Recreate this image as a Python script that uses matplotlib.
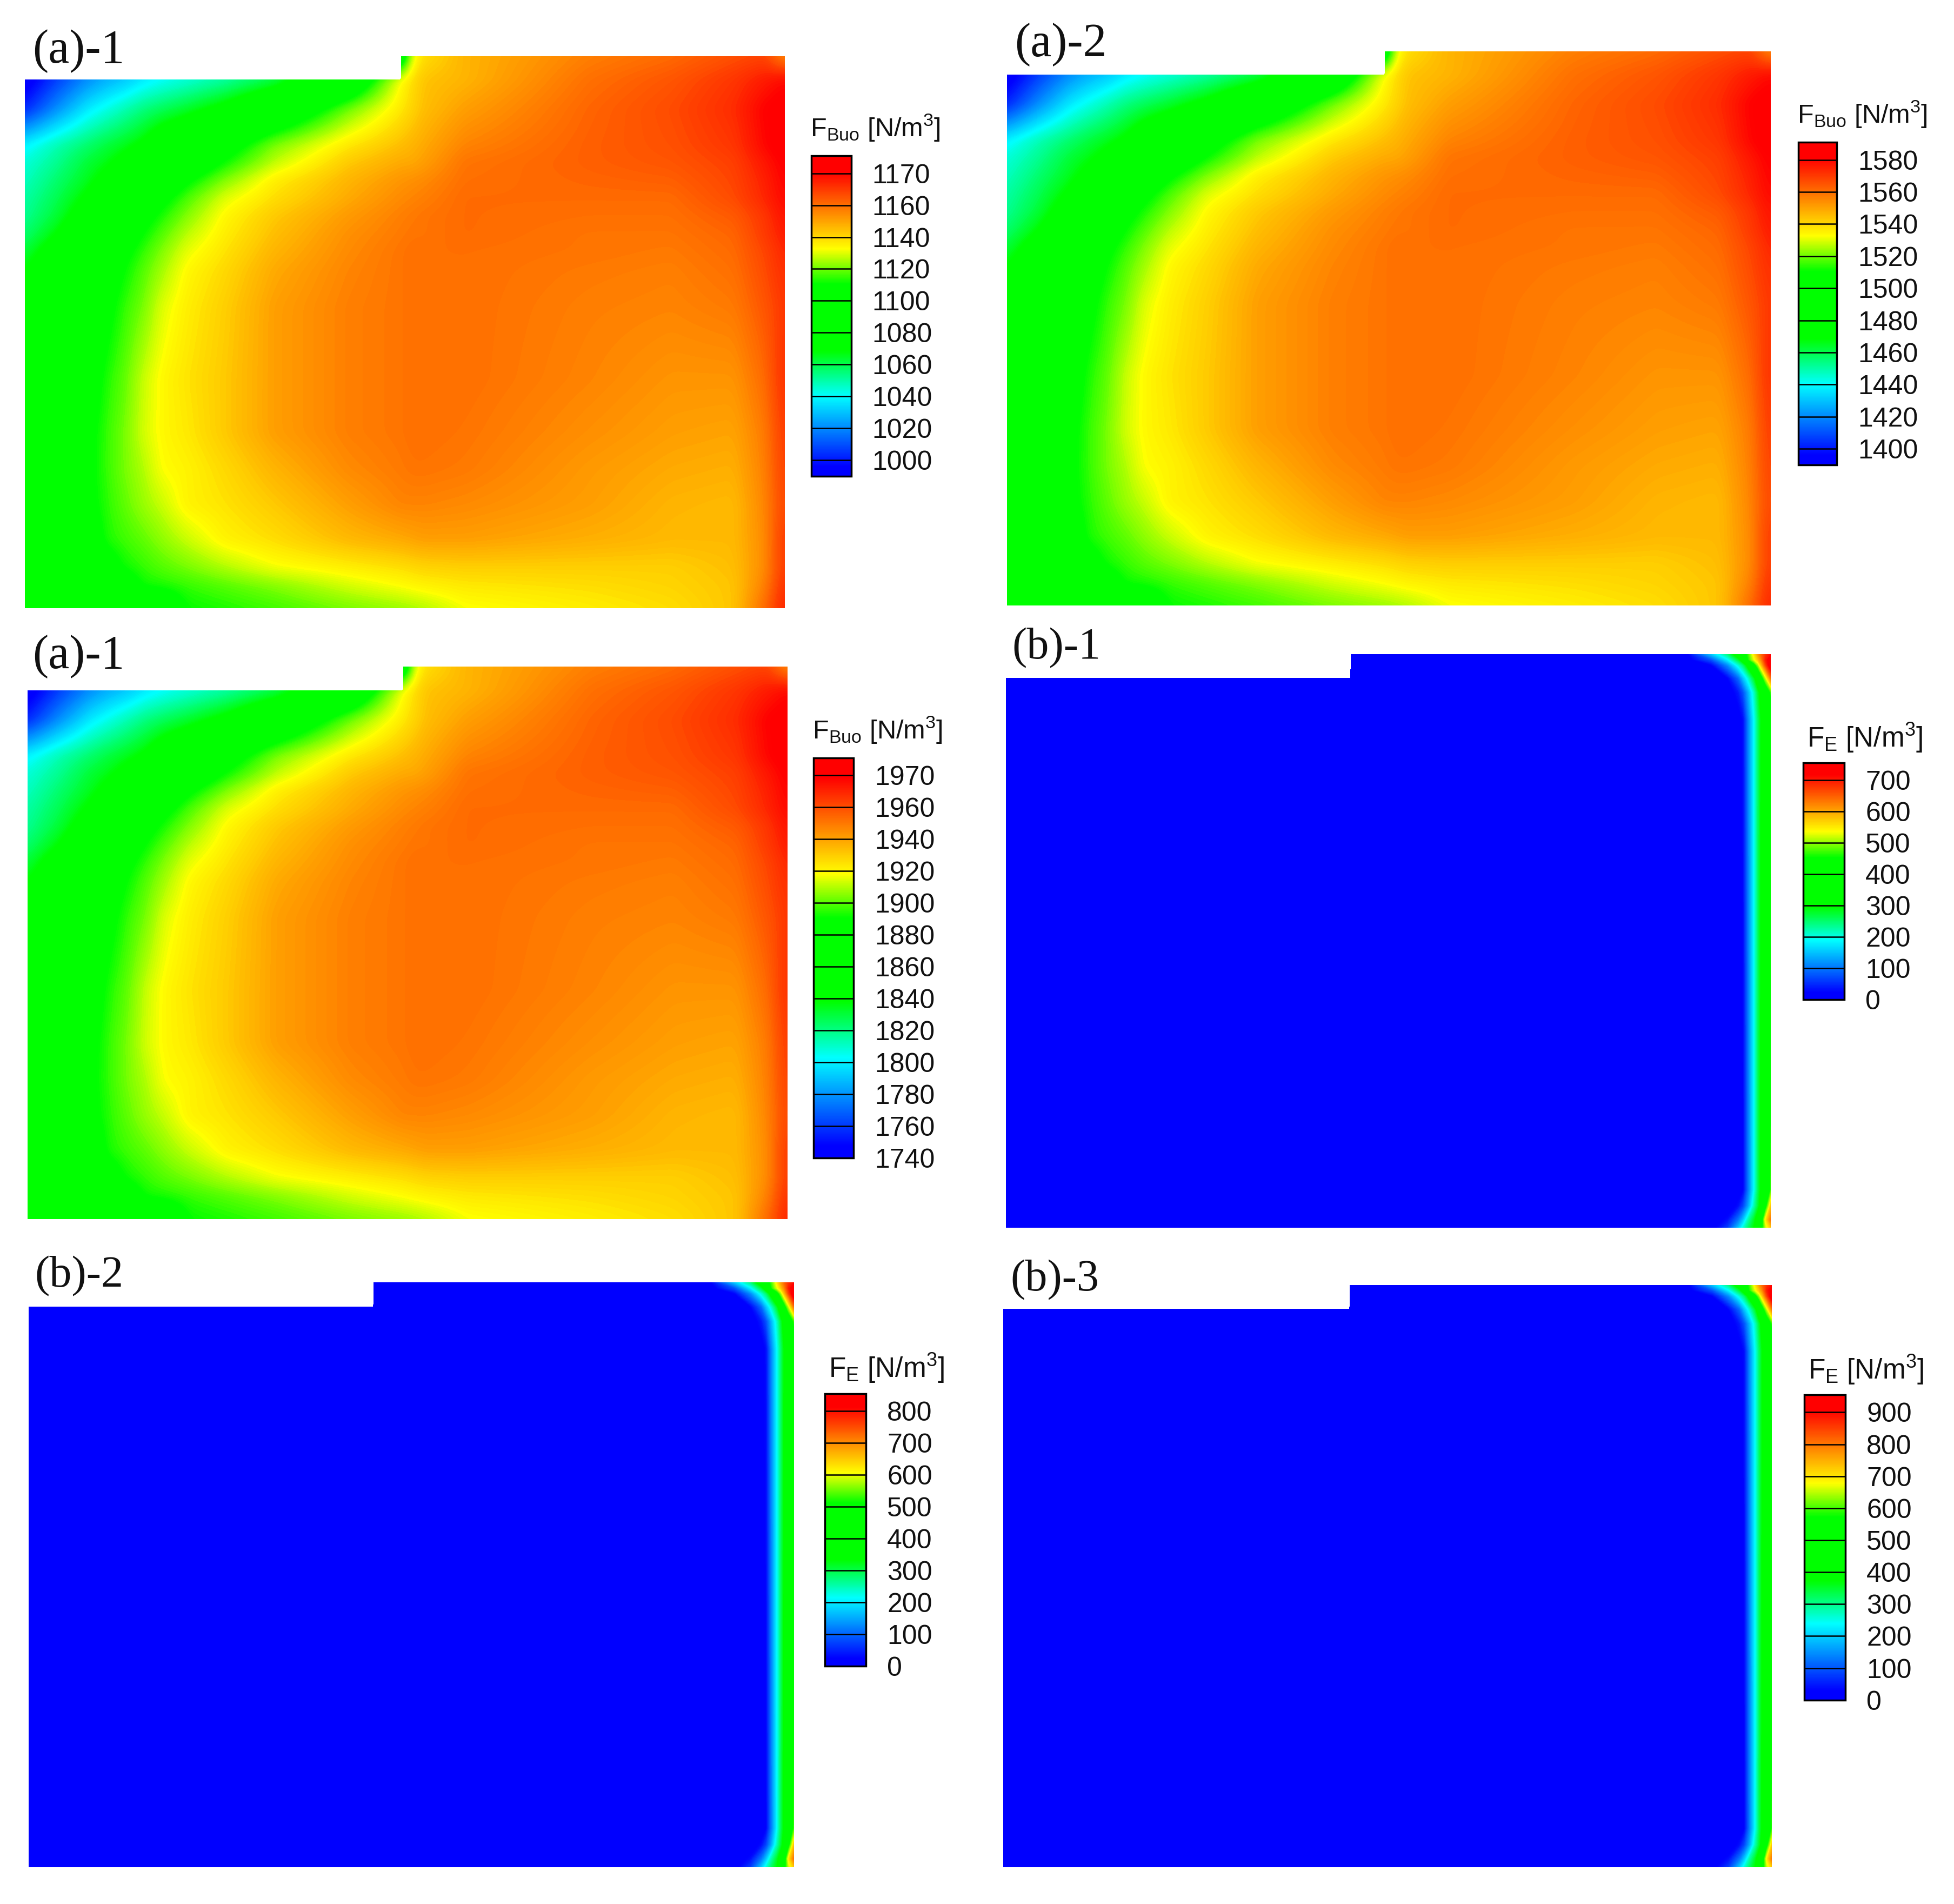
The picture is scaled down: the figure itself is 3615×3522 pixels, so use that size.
import numpy as np
import matplotlib
matplotlib.use("Agg")
import matplotlib.pyplot as plt
from matplotlib.cm import ScalarMappable
from matplotlib.colors import LinearSegmentedColormap, Normalize

plt.rcParams['font.family'] = ['Liberation Sans', 'DejaVu Sans']
plt.rcParams['mathtext.fontset'] = 'custom'
plt.rcParams['mathtext.rm'] = 'Liberation Sans'

# field tables hold the position on the colour bar, 0 = bottom, 1 = top
buo_x = [0, 25, 50, 65, 80, 95, 110, 130, 160, 200, 260, 302, 311, 320, 353, 453, 519, 569, 594, 607, 610]
buo_y = [0, 19, 42, 71, 85, 100, 114, 128, 143, 157, 172, 201, 259, 302, 331, 360, 388, 410, 425, 443]
buo_field = [
    [0, .08, .15, .18, .20, .23, .25, .27, .30, .35, .50, .50, .70, .74, .78, .83, .85, .875, .885, .83, .82],
    [0, .08, .15, .18, .20, .23, .25, .27, .30, .35, .50, .71, .74, .765, .78, .845, .87, .90, .925, .94, .94],
    [.06, .15, .23, .26, .29, .32, .34, .365, .41, .50, .645, .73, .75, .77, .80, .855, .88, .91, .95, .96, .96],
    [.24, .29, .33, .355, .375, .40, .45, .49, .56, .65, .73, .77, .78, .79, .825, .86, .875, .90, .945, .96, .96],
    [.27, .31, .36, .38, .41, .45, .48, .53, .60, .68, .76, .79, .79, .80, .84, .86, .87, .89, .93, .95, .95],
    [.285, .33, .375, .41, .45, .49, .53, .59, .655, .725, .78, .81, .815, .82, .845, .855, .86, .885, .92, .945, .945],
    [.30, .345, .40, .45, .49, .54, .58, .63, .695, .74, .79, .82, .825, .83, .85, .85, .85, .88, .915, .94, .94],
    [.31, .36, .43, .48, .53, .575, .61, .655, .715, .76, .805, .83, .835, .84, .85, .845, .845, .865, .90, .93, .93],
    [.33, .39, .47, .51, .56, .60, .635, .68, .725, .77, .815, .835, .84, .84, .85, .84, .84, .855, .895, .92, .925],
    [.36, .43, .50, .54, .585, .62, .655, .70, .735, .78, .82, .84, .845, .845, .845, .84, .835, .85, .885, .91, .915],
    [.39, .45, .52, .56, .60, .635, .67, .715, .745, .79, .825, .84, .845, .845, .845, .835, .83, .845, .88, .905, .905],
    [.40, .46, .54, .58, .62, .65, .695, .725, .755, .80, .83, .84, .845, .845, .845, .83, .825, .835, .87, .895, .90],
    [.42, .48, .56, .61, .64, .685, .715, .735, .76, .80, .83, .84, .845, .845, .845, .825, .81, .81, .85, .90, .90],
    [.43, .49, .58, .62, .65, .69, .715, .73, .76, .80, .83, .84, .845, .845, .84, .815, .80, .795, .835, .89, .89],
    [.43, .49, .585, .62, .65, .675, .71, .72, .745, .78, .82, .835, .84, .84, .835, .805, .79, .785, .83, .885, .885],
    [.44, .49, .58, .615, .64, .665, .685, .72, .735, .76, .80, .825, .825, .825, .82, .80, .78, .775, .825, .88, .88],
    [.44, .49, .54, .61, .625, .64, .66, .685, .72, .74, .775, .79, .795, .80, .80, .785, .775, .775, .82, .89, .89],
    [.44, .48, .52, .56, .605, .62, .635, .65, .675, .705, .725, .74, .745, .75, .755, .755, .755, .77, .82, .89, .89],
    [.44, .48, .50, .52, .55, .605, .61, .62, .635, .655, .69, .71, .715, .72, .73, .74, .75, .765, .83, .90, .90],
    [.44, .47, .50, .50, .50, .50, .52, .60, .61, .625, .65, .665, .67, .675, .705, .725, .74, .765, .85, .91, .915],
]

# distance from the right edge and from the top, full size pixels
fe_dx = [1416, 778, 777, 160, 110, 80, 60, 51, 42, 31, 24, 18, 10, 0]
fe_dy = [0, 10, 20, 44, 70, 120, 990, 1020, 1045, 1060]
fe_field = [
    [0, 0, 0, 0, .20, .32, .45, .55, .62, .73, .80, .85, .90, .94],
    [0, 0, 0, 0, .10, .24, .36, .45, .60, .70, .76, .82, .92, .98],
    [0, 0, 0, 0, .03, .15, .27, .33, .42, .56, .66, .76, .88, 1.0],
    [0, 0, 0, 0, 0, .03, .12, .20, .27, .37, .45, .55, .68, .84],
    [0, 0, 0, 0, 0, 0, .05, .10, .18, .28, .36, .42, .50, .62],
    [0, 0, 0, 0, 0, 0, .01, .04, .14, .25, .33, .39, .45, .50],
    [0, 0, 0, 0, 0, 0, .01, .03, .13, .25, .34, .40, .46, .62],
    [0, 0, 0, 0, 0, 0, .04, .09, .17, .29, .36, .42, .56, .76],
    [0, 0, 0, 0, 0, .04, .13, .20, .29, .37, .43, .52, .72, .84],
    [0, 0, 0, 0, .01, .08, .20, .27, .33, .39, .46, .56, .68, .76],
]

a1_ticks = [1000, 1170]
a1_labels = ['1170', '1160', '1140', '1120', '1100', '1080', '1060', '1040', '1020', '1000']
a2_ticks = [1400, 1580]
a2_labels = ['1580', '1560', '1540', '1520', '1500', '1480', '1460', '1440', '1420', '1400']
a3_ticks = [1740, 1970]
a3_labels = ['1970', '1960', '1940', '1920', '1900', '1880', '1860', '1840', '1820', '1800', '1780', '1760', '1740']
b1_ticks = [0, 700]
b1_labels = ['700', '600', '500', '400', '300', '200', '100', '0']
b2_ticks = [0, 800]
b2_labels = ['800', '700', '600', '500', '400', '300', '200', '100', '0']
b3_ticks = [0, 900]
b3_labels = ['900', '800', '700', '600', '500', '400', '300', '200', '100', '0']

stops = [(0.0, '#0000ff'), (0.03, '#0000ff'), (0.25, '#00ffff'), (0.39, '#00ff00'), (0.60, '#00ff00'),
         (0.71, '#ffff00'), (0.95, '#ff0000'), (1.0, '#ff0000')]
rainbow = LinearSegmentedColormap.from_list('tecplot', stops, N=512)

W, H = 3615, 3522
S = W / 1568  # layout below was measured on the 1568 wide view

fig = plt.figure(figsize=(W / 100, H / 100), dpi=100)


def add_px_axes(x0, y0, x1, y1):
    return fig.add_axes([x0 * S / W, 1 - y1 * S / H, (x1 - x0) * S / W, (y1 - y0) * S / H])


def smooth_table(table, sigma=4):
    # the table is a coarse reading, round off its kinks on a 1 unit grid
    xs = np.arange(buo_x[-1] + 1)
    ys = np.arange(buo_y[-1] + 1)
    rows = np.array([np.interp(xs, buo_x, r) for r in table])
    fine = np.array([np.interp(ys, buo_y, c) for c in rows.T]).T
    kx = np.arange(-12, 13)
    kern = np.exp(-kx ** 2 / (2 * sigma ** 2))
    kern /= kern.sum()
    pad = np.pad(fine, 12, mode='edge')
    pad = np.apply_along_axis(lambda r: np.convolve(r, kern, mode='valid'), 1, pad)
    pad = np.apply_along_axis(lambda c: np.convolve(c, kern, mode='valid'), 0, pad)
    return xs / xs[-1], ys / ys[-1], pad


def panel(box, field, tag, tag_xy, bar, ticks, labels, bottom_pad):
    x0, y0, x1, y1 = box
    if field is fe_field:
        fx = 1 - np.array(fe_dx) / fe_dx[0]
        fy = np.array(fe_dy) / fe_dy[-1]
        t = np.array(fe_field)
        notch = (fx[2], fy[3])
        title = r'F$_{\mathrm{E}}$ [N/m$^{3}$]'
        title_size, title_x, title_y, tag_size = 37, 3, 7, 59
    else:
        fx, fy, t = smooth_table(field)
        notch = (buo_x[11] / buo_x[-1], buo_y[1] / buo_y[-1])
        title = r'F$_{\mathrm{Buo}}$ [N/m$^{3}$]'
        title_size, title_x, title_y, tag_size = 35, -1, 10, 63

    n = len(labels)
    step = (ticks[1] - ticks[0]) / (n - 1)
    lo = ticks[0] - step * bottom_pad
    hi = ticks[1] + step * 0.55
    norm = Normalize(lo, hi)
    values = lo + t * (hi - lo)

    X, Y = np.meshgrid(fx, fy)
    mask = (X < notch[0] - 1e-6) & (Y < notch[1] - 1e-6)
    ax = add_px_axes(x0, y0, x1, y1)
    ax.contourf(X, Y, np.ma.array(values, mask=mask), levels=np.linspace(lo, hi, 240),
                cmap=rainbow, norm=norm, extend='both', antialiased=False)
    ax.set_xlim(0, 1)
    ax.set_ylim(1, 0)
    ax.axis('off')

    cax = add_px_axes(*bar)
    cb = fig.colorbar(ScalarMappable(norm=norm, cmap=rainbow), cax=cax)
    levels = np.linspace(ticks[1], ticks[0], n)
    cax.hlines(levels, 0, 1, colors='black', linewidth=1.8, transform=cax.get_yaxis_transform())
    cb.set_ticks(levels, labels=labels)
    cb.ax.tick_params(length=0, pad=28, labelsize=36, labelcolor='#111111')
    cb.outline.set_linewidth(2.5)

    fig.text((bar[0] + title_x) * S / W, 1 - (bar[1] - title_y) * S / H, title, fontsize=title_size,
             ha='left', va='bottom', color='#111111')
    fig.text(tag_xy[0] * S / W, 1 - tag_xy[1] * S / H, tag, fontsize=tag_size, family='Liberation Serif',
             ha='left', va='center', color='#111111')


panel((20, 45, 630, 488), buo_field, '(a)-1', (26, 41), (651, 125, 683, 382), a1_ticks, a1_labels, 0.5)
panel((808, 41, 1421, 486), buo_field, '(a)-2', (814, 36), (1443, 114, 1474, 373), a2_ticks, a2_labels, 0.5)
panel((22, 535, 632, 978), buo_field, '(a)-1', (26, 527), (653, 608, 685, 929), a3_ticks, a3_labels, 0.0)
panel((807, 525, 1421, 985), fe_field, '(b)-1', (812, 520), (1447, 612, 1480, 802), b1_ticks, b1_labels, 0.0)
panel((23, 1029, 637, 1498), fe_field, '(b)-2', (28, 1024), (662, 1118, 695, 1337), b2_ticks, b2_labels, 0.0)
panel((805, 1031, 1422, 1498), fe_field, '(b)-3', (811, 1027), (1448, 1119, 1481, 1364), b3_ticks, b3_labels, 0.0)

fig.savefig('out.png', dpi=100, facecolor='white')
